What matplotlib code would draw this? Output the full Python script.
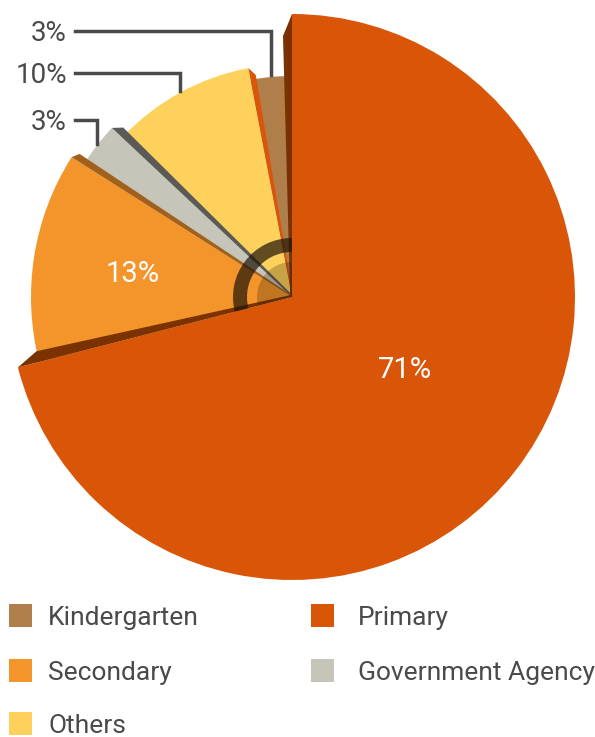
import numpy as np
import matplotlib
matplotlib.use('Agg')
import matplotlib.pyplot as plt
from matplotlib.patches import Wedge, Polygon, Rectangle

# data (counterclockwise from 12 o'clock for the small slices, primary goes clockwise)
categories = ['Kindergarten', 'Others', 'Government Agency', 'Secondary', 'Primary']
shares = [3, 10, 3, 13, 71]
colors = ['#b07e4b', '#fed15c', '#c5c5b9', '#f3952a', '#d95508']
wall_colors = ['#d95508', '#5a5a56', '#a1601c', '#7a3300']
legend_order = ['Kindergarten', 'Primary', 'Secondary', 'Government Agency', 'Others']
outside_labels = ['3%', '10%', '3%']
inside_labels = ['13%', '71%']

# stepped radii, px
radii = [221, 233, 247, 261, 283]
cx, cy = 292, 440

fig = plt.figure(figsize=(5.95, 7.37), dpi=100)
ax = fig.add_axes([0, 0, 1, 1])
ax.set_xlim(0, 595)
ax.set_ylim(0, 737)
ax.set_aspect('equal')
ax.axis('off')

# angle bounds
fracs = np.array(shares) / sum(shares) * 360
starts = 90 + np.concatenate([[0], np.cumsum(fracs[:-1])])
ends = starts + fracs

for i in range(len(shares)):
    ax.add_patch(Wedge((cx, cy), radii[i], starts[i], ends[i], facecolor=colors[i],
                       edgecolor='none', zorder=2))

def wall(theta, r, toward, color, width, drop):
    t = np.radians(theta)
    u = np.array([np.cos(t), np.sin(t)])
    n = np.array([-np.sin(t), np.cos(t)]) * toward
    c = np.array([cx, cy])
    pts = [c, c + r * u, c + (r - drop) * u + n * width, c + n * width * 0.2]
    ax.add_patch(Polygon(pts, closed=True, facecolor=color, edgecolor='none', zorder=3))

# side walls of the bigger slice on each boundary, shown over the smaller neighbour
wall(ends[0], radii[1], -1, wall_colors[0], 6, 8)
wall(ends[1], radii[2], -1, wall_colors[1], 8, 8)
wall(ends[2], radii[3], -1, wall_colors[2], 7, 5)
wall(starts[0], radii[4], 1, wall_colors[3], 9, 22)
wall(ends[3], radii[4], -1, wall_colors[3], 11, 22)

# centre ring decoration
ax.add_patch(Wedge((cx, cy), 59, starts[0], ends[3], width=14, facecolor='#1e1408',
                   alpha=0.7, edgecolor='none', zorder=4))
ax.add_patch(Wedge((cx, cy), 35, starts[0], ends[3], facecolor='#2a1a05',
                   alpha=0.25, edgecolor='none', zorder=4))

# leader labels for the small slices
label_y = [706, 664, 617]
for i in range(3):
    mid = np.radians((starts[i] + ends[i]) / 2)
    lx = cx + radii[i] * np.cos(mid)
    ly = cy + np.sqrt(radii[i] ** 2 - (lx - cx) ** 2) + 2
    ax.plot([75, lx, lx], [label_y[i], label_y[i], ly], color='#4a4a4a', lw=2.5,
            solid_joinstyle='miter', zorder=5)
    ax.text(67, label_y[i] - 10, outside_labels[i], ha='right', va='baseline',
            fontsize=20, family='Roboto', color='#4a4a4a')

# inside labels
for lab, i, f, shift in zip(inside_labels, [3, 4], [0.62, 0.47], [0, 6]):
    mid = np.radians((starts[i] + ends[i]) / 2 + shift)
    ax.text(cx + radii[i] * f * np.cos(mid), cy + radii[i] * f * np.sin(mid) - 10.5, lab,
            ha='center', va='baseline', fontsize=21, family='Roboto',
            color='white', zorder=6)

# legend
leg_x = [9, 311]
text_x = [48, 358]
leg_y = [122, 67, 14]
for k, name in enumerate(legend_order):
    col, row = k % 2, k // 2
    ax.add_patch(Rectangle((leg_x[col], leg_y[row] - 11.5), 23, 23,
                           facecolor=colors[categories.index(name)], edgecolor='none'))
    ax.text(text_x[col], leg_y[row] - 10, name, ha='left', va='baseline', fontsize=19,
            family=['Liberation Sans Narrow', 'Roboto'], color='#4a4a4a')

fig.savefig('out.png', dpi=100)
